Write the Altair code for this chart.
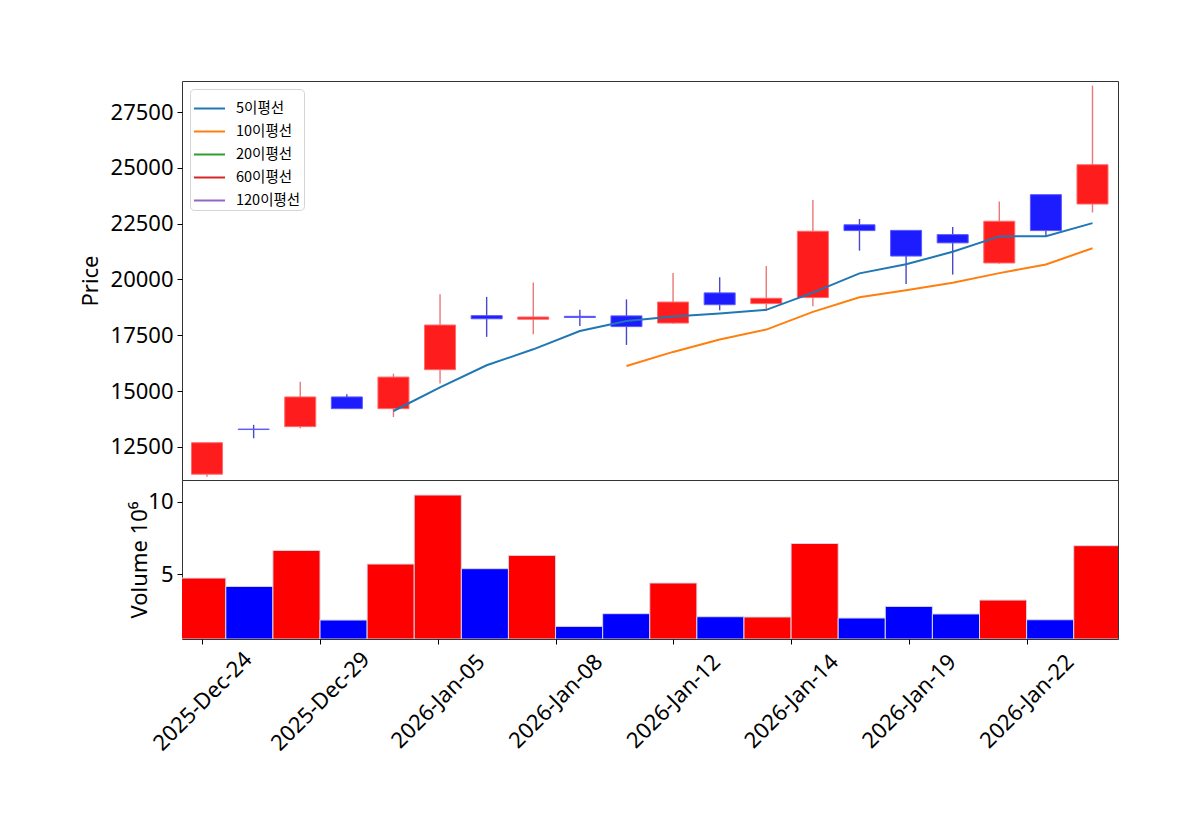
import altair as alt
import pandas as pd

dates = ['2025-Dec-24', '2025-Dec-26', '2025-Dec-29', '2025-Dec-30', '2026-Jan-02',
         '2026-Jan-05', '2026-Jan-06', '2026-Jan-07', '2026-Jan-08', '2026-Jan-09',
         '2026-Jan-12', '2026-Jan-13', '2026-Jan-14', '2026-Jan-15', '2026-Jan-16',
         '2026-Jan-19', '2026-Jan-20', '2026-Jan-21', '2026-Jan-22', '2026-Jan-23']
opens = [11280, 13300, 13410, 14740, 14215, 15960, 18380, 18220, 18350, 18370,
         18050, 19400, 18920, 19190, 22450, 22200, 22010, 20740, 23800, 23380]
highs = [12690, 13490, 15420, 14860, 15780, 19340, 19220, 19860, 18650, 19110,
         20290, 20100, 20600, 23560, 22710, 22200, 22350, 23490, 23800, 28680]
lows = [11170, 12890, 13340, 14215, 13840, 15340, 17430, 17550, 17920, 17070,
        18020, 18620, 18590, 18800, 21290, 19800, 20220, 20710, 21950, 23000]
closes = [12690, 13280, 14740, 14215, 15630, 17960, 18240, 18320, 18300, 17890,
          18990, 18870, 19160, 22160, 22190, 21050, 21640, 22610, 22190, 25140]
volumes_m = [4.72, 4.14, 6.63, 1.82, 5.69, 10.46, 5.37, 6.29, 1.38, 2.26,
             4.38, 2.05, 2.03, 7.11, 1.96, 2.76, 2.24, 3.20, 1.84, 6.96]

ma_periods = [5, 10, 20, 60, 120]
ma_names = ['5이평선', '10이평선', '20이평선', '60이평선', '120이평선']
ma_colors = ['#1f77b4', '#ff7f0e', '#2ca02c', '#d62728', '#9467bd']

tick_values = [0, 2.5, 5, 7.5, 10, 12.5, 15, 17.5]
tick_labels = [dates[round(v)] for v in tick_values]

df = pd.DataFrame({
    'i': list(range(len(dates))),
    'date': dates,
    'open': opens,
    'high': highs,
    'low': lows,
    'close': closes,
    'volume': volumes_m,
})

FONT = 'Noto Sans'
LFONT = 'Noto Sans CJK KR'
W, H1, H2 = 936, 399, 159
xdom = [-0.43, 19.44]
up = 'datum.close >= datum.open'

base = alt.Chart(df)
xs = alt.Scale(domain=xdom, nice=False, zero=False)
ys = alt.Scale(domain=[11020, 28890], nice=False, zero=False)

wick = base.mark_rule(strokeWidth=1.4, clip=True).encode(
    x=alt.X('i:Q', scale=xs, axis=None),
    y=alt.Y('low:Q', scale=ys,
            axis=alt.Axis(values=[12500, 15000, 17500, 20000, 22500, 25000, 27500],
                          format='d', title='Price')),
    y2='high:Q',
    color=alt.condition(up, alt.value('#e87878'), alt.value('#4848c8')),
)

body = base.mark_bar(size=31, clip=True, strokeWidth=1).encode(
    x=alt.X('i:Q', scale=xs, axis=None),
    y=alt.Y('open:Q', scale=ys),
    y2='close:Q',
    fill=alt.condition(up, alt.value('#ff1c1c'), alt.value('#1c1cff')),
    stroke=alt.condition(up, alt.value('#ff6a6a'), alt.value('#5a5aff')),
)

color_scale = alt.Scale(domain=ma_names, range=ma_colors)
legend = alt.Legend(orient='top-left', offset=8, title=None, symbolType='stroke',
                    symbolSize=960, symbolStrokeWidth=2, labelFontSize=14.5,
                    labelFont=LFONT, labelColor='black', padding=3,
                    strokeColor='#d4d4d4', fillColor='white', cornerRadius=4,
                    rowPadding=-12.5, labelOffset=10)

ma_layers = []
for n, name in zip(ma_periods, ma_names):
    ma_layers.append(
        base.transform_window(ma='mean(close)', cnt='count()', frame=[-(n - 1), 0],
                              sort=[alt.SortField('i')])
        .transform_filter(f'datum.cnt == {n}')
        .transform_calculate(name=f"'{name}'")
        .mark_line(strokeWidth=2, clip=True)
        .encode(
            x=alt.X('i:Q', scale=xs, axis=None),
            y=alt.Y('ma:Q', scale=ys),
            color=alt.Color('name:N', scale=color_scale, legend=legend),
        )
    )

top = alt.layer(wick, body, *ma_layers).properties(width=W, height=H1)

label_expr = '[' + ','.join(f"'{t}'" for t in tick_labels) + '][round(datum.value / 2.5)]'

vol = base.transform_calculate(x0='datum.i - 0.5', x1='datum.i + 0.5').mark_bar(
    clip=True, stroke='#d6d6e6', strokeWidth=1
).encode(
    x=alt.X('x0:Q', scale=xs,
            axis=alt.Axis(values=tick_values, labelExpr=label_expr, labelAngle=-45,
                          labelAlign='center', labelBaseline='middle',
                          labelPadding=57, title=None)),
    x2='x1:Q',
    y=alt.Y('volume:Q', scale=alt.Scale(domain=[0.51, 11.5], nice=False, zero=False),
            axis=alt.Axis(values=[5, 10], title='Volume  10⁶', titlePadding=-4)),
    y2=alt.value(H2),
    fill=alt.condition(up, alt.value('#ff0000'), alt.value('#0000ff')),
).properties(width=W, height=H2)

chart = alt.vconcat(top, vol, spacing=0, bounds='flush').properties(
    padding={'left': 70, 'top': 72, 'right': 70, 'bottom': 60}
).configure_view(
    stroke='#333333', strokeWidth=1
).configure_axis(
    domain=False, grid=False, tickColor='black', tickSize=5, tickWidth=1,
    labelFont=FONT, labelFontSize=22, labelColor='black', labelPadding=4,
    titleFont=FONT, titleFontSize=22, titleColor='black', titleFontWeight='normal',
    titlePadding=8,
)

chart.save('out.html', embed_options={'renderer': 'svg', 'actions': False})
